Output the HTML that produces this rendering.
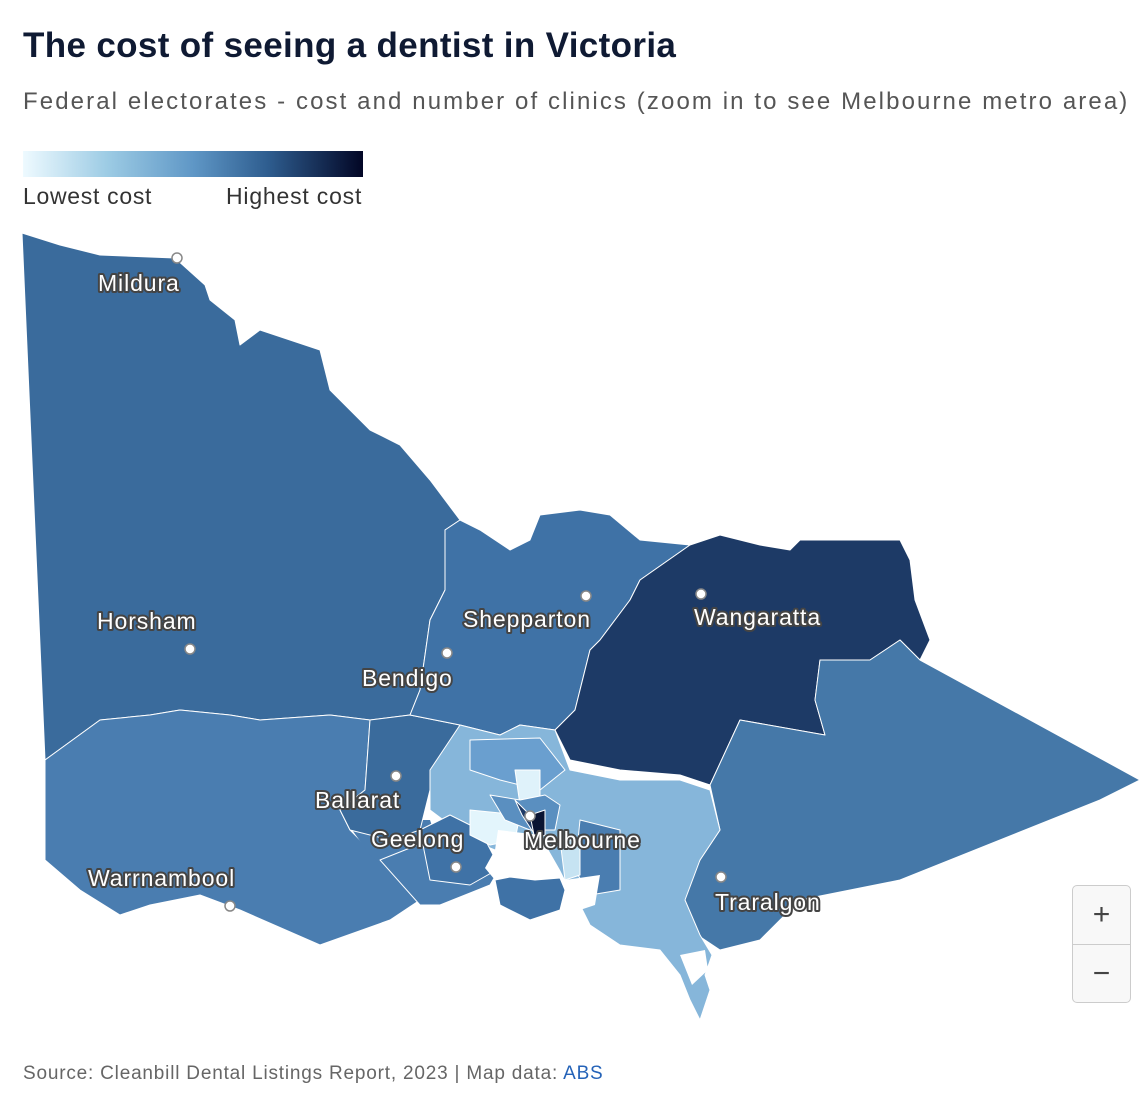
<!DOCTYPE html>
<html><head><meta charset="utf-8"><style>
html,body{margin:0;padding:0;background:#fff;}
body{width:1148px;height:1104px;position:relative;overflow:hidden;font-family:"Liberation Sans",sans-serif;}
.t{position:absolute;left:23px;top:26px;font-size:35px;font-weight:bold;color:#0f1a33;letter-spacing:0.35px;}
.s{position:absolute;left:23px;top:88px;font-size:24px;color:#555;letter-spacing:2.1px;}
.bar{position:absolute;left:23px;top:151px;width:340px;height:26px;background:linear-gradient(to right,#eefaff,#9ccbe4 25%,#5f97c6 50%,#2e5d8f 72%,#020625);}
.l1{position:absolute;left:23px;top:183px;font-size:23px;color:#333;letter-spacing:0.7px;}
.l2{position:absolute;left:226px;top:183px;font-size:23px;color:#333;letter-spacing:0.8px;}
.src{position:absolute;left:23px;top:1063px;font-size:19px;color:#666;letter-spacing:0.8px;}
.src span{color:#2563b8;}
.zb{position:absolute;left:1072px;top:885px;width:57px;height:116px;border:1px solid #ccc;border-radius:5px;background:#f8f8f8;}
.zb div{height:58px;text-align:center;font-size:30px;line-height:58px;color:#444;}
.zb div:first-child{border-bottom:1px solid #ccc;}
svg{position:absolute;left:0;top:0;}
svg text{font-family:"Liberation Sans",sans-serif;font-size:23px;fill:#fff;stroke:#444;stroke-width:4px;paint-order:stroke;stroke-linejoin:round;letter-spacing:0.9px;}
</style></head><body>
<div class="t">The cost of seeing a dentist in Victoria</div>
<div class="s">Federal electorates - cost and number of clinics (zoom in to see Melbourne metro area)</div>
<div class="bar"></div>
<div class="l1">Lowest cost</div><div class="l2">Highest cost</div>
<svg width="1148" height="1104" viewBox="0 0 1148 1104">
<g stroke="#fff" stroke-width="1" stroke-linejoin="round">
<polygon fill="#3a6b9c" points="22,233 60,245 100,255 175,258 205,285 210,300 235,320 240,345 260,330 290,340 320,350 330,390 350,410 370,430 400,445 430,480 460,520 445,530 445,590 430,620 420,690 410,715 370,720 330,715 260,720 230,715 180,710 150,715 100,720 45,760"/>
<polygon fill="#4a7db0" points="45,760 100,720 150,715 180,710 230,715 260,720 330,715 370,720 365,790 340,810 350,830 380,860 420,900 390,920 320,945 240,910 200,895 150,905 120,915 80,890 45,860"/>
<polygon fill="#4a7db0" stroke="none" points="345,820 430,820 440,850 400,880 370,855"/>
<polygon fill="#4a7db0" points="380,860 430,840 470,860 500,868 490,885 440,905 420,905"/>
<polygon fill="#3a6b9c" points="370,720 410,715 460,725 450,760 430,790 420,830 390,840 350,830 340,810 365,790"/>
<polygon fill="#3f72a6" points="460,520 480,530 510,550 530,540 540,515 580,510 610,515 640,540 690,545 640,580 630,600 600,640 590,650 575,710 555,730 520,725 500,735 460,725 410,715 420,690 430,620 445,590 445,530"/>
<polygon fill="#1d3a66" points="690,545 720,535 760,545 790,550 800,540 860,540 900,540 910,560 915,600 930,640 920,660 900,640 870,660 820,660 815,700 825,735 740,720 710,785 680,775 620,770 570,760 555,730 575,710 590,650 600,640 630,600 640,580"/>
<polygon fill="#4578a8" points="920,660 1140,780 1100,800 1000,840 900,880 800,900 760,940 720,950 690,930 680,900 700,860 720,830 710,785 740,720 825,735 815,700 820,660 870,660 900,640"/>
<polygon fill="#86b6da" points="460,725 500,735 520,725 555,730 570,770 620,780 680,780 710,790 720,830 700,860 685,900 700,935 712,955 705,975 710,990 700,1020 690,1000 680,975 660,950 620,945 590,925 580,905 565,880 520,860 470,840 430,810 430,770"/>
<polygon fill="#6a9fcf" points="470,740 540,738 565,770 540,790 500,780 470,770"/>
<polygon fill="#4a7db0" points="580,820 620,830 620,890 590,895 575,870"/>
<polygon fill="#3f72a6" points="420,830 450,815 480,830 500,868 470,885 430,880"/>
<polygon fill="#e3f5fc" points="470,810 520,815 515,840 490,845 470,835"/>
<polygon fill="#dff2fa" points="515,770 540,770 540,800 520,805"/>
<polygon fill="#5a8fc0" points="490,795 520,800 545,795 560,805 555,830 530,830 505,820"/>
<polygon fill="#1d3a66" points="515,800 530,815 535,835 522,815"/>
<polygon fill="#0a1432" points="530,815 545,810 545,835 535,840"/>
<polygon fill="#c6e3f2" points="560,840 580,840 580,875 565,880"/>
<polygon fill="#fff" stroke="none" points="498,830 540,835 560,870 565,880 545,878 510,877 495,880 485,868 495,850"/>
<polygon fill="#3f72a6" points="495,880 510,877 535,880 560,878 565,890 560,910 530,920 500,905"/>
<polygon fill="#fff" stroke="none" points="565,880 600,875 595,905 580,910"/>
<polygon fill="#fff" stroke="none" points="680,955 705,950 708,970 692,985"/>
</g>
<g fill="#fff" stroke="#888" stroke-width="1.5">
<circle cx="177" cy="258" r="5"/><circle cx="190" cy="649" r="5"/><circle cx="447" cy="653" r="5"/>
<circle cx="586" cy="596" r="5"/><circle cx="701" cy="594" r="5"/><circle cx="396" cy="776" r="5"/>
<circle cx="456" cy="867" r="5"/><circle cx="530" cy="816" r="5"/><circle cx="721" cy="877" r="5"/>
<circle cx="230" cy="906" r="5"/>
</g>
<text x="98" y="291">Mildura</text>
<text x="97" y="629">Horsham</text>
<text x="362" y="686">Bendigo</text>
<text x="463" y="627">Shepparton</text>
<text x="694" y="625">Wangaratta</text>
<text x="315" y="808">Ballarat</text>
<text x="371" y="847">Geelong</text>
<text x="524" y="848">Melbourne</text>
<text x="88" y="886">Warrnambool</text>
<text x="715" y="910">Traralgon</text>
</svg>
<div class="zb"><div>+</div><div>−</div></div>
<div class="src">Source: Cleanbill Dental Listings Report, 2023 | Map data: <span>ABS</span></div>
</body></html>
